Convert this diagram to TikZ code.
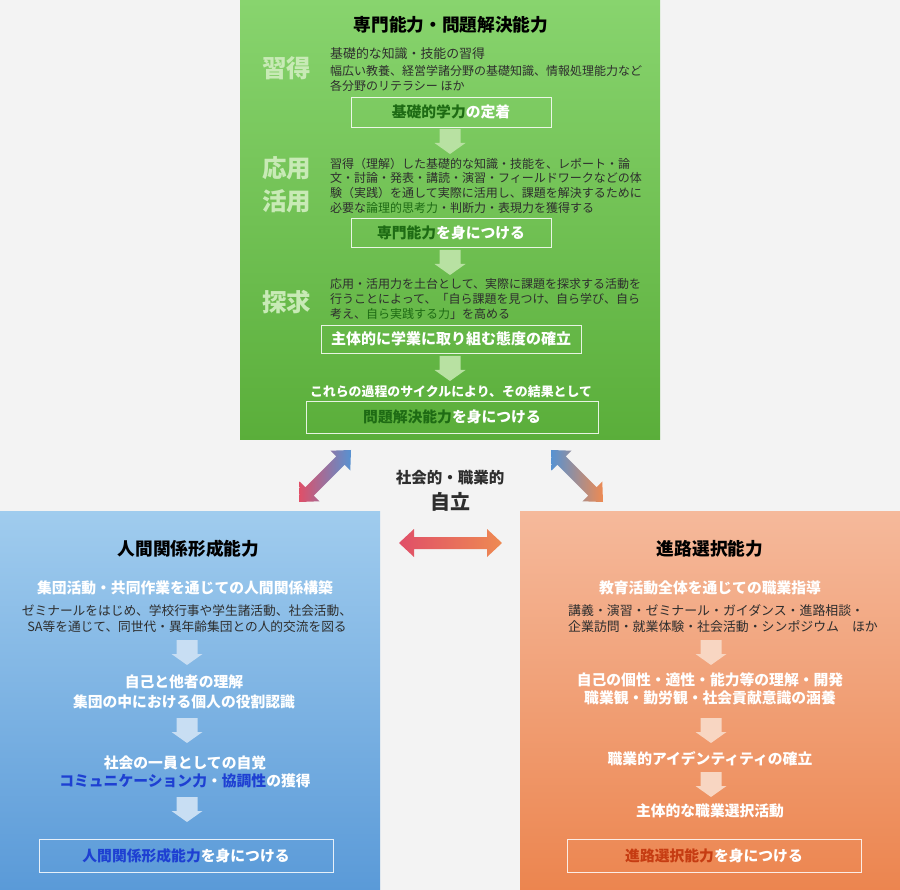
\documentclass[tikz,border=0pt]{standalone}
\usepackage{fontspec}
\newfontfamily\jp{Noto Sans CJK JP}
\usepackage{xcolor}
\usetikzlibrary{calc}

\definecolor{bggray}{HTML}{F3F3F3}
\definecolor{grtop}{HTML}{88D46E}
\definecolor{grbot}{HTML}{5AAE3A}
\definecolor{bltop}{HTML}{A0CCEE}
\definecolor{blbot}{HTML}{5A9AD8}
\definecolor{ortop}{HTML}{F5B99B}
\definecolor{orbot}{HTML}{EC854F}
\definecolor{grmark}{HTML}{1E6B14}
\definecolor{blmark}{HTML}{1E40D2}
\definecolor{ormark}{HTML}{C63C12}
\definecolor{grstage}{HTML}{C8EAB6}
\definecolor{grarrow}{HTML}{B8E1A2}
\definecolor{blarrow}{HTML}{C8DEF3}
\definecolor{orarrow}{HTML}{F8D6C2}
\definecolor{txtgray}{HTML}{2E2E2E}
\definecolor{arred}{HTML}{E04F68}
\definecolor{arblue}{HTML}{5692D2}
\definecolor{arorange}{HTML}{EE8A52}

% block arrow pointing down: colour, x, top y
\newcommand{\flowarrow}[3]{%
  \fill[#1] (#2-10.5,#3) -- (#2+10.5,#3) -- (#2+10.5,#3+14) -- (#2+15.5,#3+14)
    -- (#2,#3+25) -- (#2-15.5,#3+14) -- (#2-10.5,#3+14) -- cycle;}

% double arrow between two coordinates, with shading
\newcommand{\dblarrow}[3]{%
  \shade[#3] (#1)
    -- ($(#1)!15pt!(#2)!14pt!90:(#2)$)
    -- ($(#1)!15pt!(#2)!6pt!90:(#2)$)
    -- ($(#2)!15pt!(#1)!6pt!-90:(#1)$)
    -- ($(#2)!15pt!(#1)!14pt!-90:(#1)$)
    -- (#2)
    -- ($(#2)!15pt!(#1)!14pt!90:(#1)$)
    -- ($(#2)!15pt!(#1)!6pt!90:(#1)$)
    -- ($(#1)!15pt!(#2)!6pt!-90:(#2)$)
    -- ($(#1)!15pt!(#2)!14pt!-90:(#2)$)
    -- cycle;}

\tikzset{
  heading/.style={font=\jp\bfseries\fontsize{17.7}{20}\selectfont, text=black, inner sep=0},
  stage/.style={font=\jp\bfseries\fontsize{24.5}{33}\selectfont, text=grstage, align=center, inner sep=0},
  note/.style={font=\jp\fontsize{12}{14.7}\selectfont, text=txtgray, inner sep=0},
  lead/.style={font=\jp\bfseries\fontsize{14.8}{18.5}\selectfont, text=white, align=center, inner sep=0},
  goal/.style={draw=white, draw opacity=0.85, line width=0.8pt, inner sep=0,
    font=\jp\bfseries\fontsize{14.8}{18}\selectfont, text=white},
}

\begin{document}
\begin{tikzpicture}[x=1pt,y=-1pt]
  \useasboundingbox (0,0) rectangle (900,890);
  \fill[bggray] (0,0) rectangle (900,890);

  % three panels
  \shade[top color=grtop, bottom color=grbot] (240,0) rectangle (660,440);
  \shade[top color=bltop, bottom color=blbot] (0,511) rectangle (380,890);
  \shade[top color=ortop, bottom color=orbot] (520,511) rectangle (900,890);

  % green panel
  \node[heading] (gtitle) at (451,25) {専門能力・問題解決能力};
  \node[stage] (st1) at (286.5,68) {習得};
  \node[stage] (st2) at (286.5,184.5) {応用\\活用};
  \node[stage] (st3) at (286.5,302) {探求};

  \node[note, anchor=west, font=\jp\fontsize{12.9}{15}\selectfont] (n1a) at (330,54) {基礎的な知識・技能の習得};
  \node[note, anchor=west, align=left] (n1b) at (330,78.5) {幅広い教養、経営学諸分野の基礎知識、情報処理能力など\\各分野のリテラシー ほか};
  \node[goal, minimum width=200, minimum height=30] (g1) at (451,112) {\textcolor{grmark}{基礎的学力}の定着};
  \flowarrow{grarrow}{450}{129}

  \node[note, anchor=west, align=left] (n2) at (330,185.5) {習得（理解）した基礎的な知識・技能を、レポート・論\\文・討論・発表・講読・演習・フィールドワークなどの体\\験（実践）を通して実際に活用し、課題を解決するために\\必要な\textcolor{grmark}{論理的思考力}・判断力・表現力を獲得する};
  \node[goal, minimum width=200, minimum height=29] (g2) at (451,232.5) {\textcolor{grmark}{専門能力}を身につける};
  \flowarrow{grarrow}{450}{250}

  \node[note, anchor=west, align=left] (n3) at (330,299) {応用・活用力を土台として、実際に課題を探求する活動を\\行うことによって、「自ら課題を見つけ、自ら学び、自ら\\考え、\textcolor{grmark}{自ら実践する力}」を高める};
  \node[goal, minimum width=260, minimum height=28, font=\jp\bfseries\fontsize{15}{18}\selectfont] (g3) at (451,339) {主体的に学業に取り組む態度の確立};
  \flowarrow{grarrow}{450}{356}

  \node[lead, font=\jp\bfseries\fontsize{12.9}{15}\selectfont] (cycle) at (451,392) {これらの過程のサイクルにより、その結果として};
  \node[goal, minimum width=292, minimum height=32] (g4) at (452,417) {\textcolor{grmark}{問題解決能力}を身につける};

  % centre
  \node[inner sep=0, font=\jp\bfseries\fontsize{15.5}{18}\selectfont, text=txtgray] (soc) at (450,478) {社会的・職業的};
  \node[inner sep=0, font=\jp\bfseries\fontsize{20}{24}\selectfont, text=txtgray] (jiritsu) at (450,502) {自立};
  \coordinate (A1) at (299,502);
  \coordinate (A2) at (351,450);
  \coordinate (B1) at (551,450);
  \coordinate (B2) at (603,502);
  \coordinate (C1) at (399,543);
  \coordinate (C2) at (502,543);
  \dblarrow{A1}{A2}{left color=arred, right color=arblue}
  \dblarrow{B1}{B2}{left color=arblue, right color=arorange}
  \dblarrow{C1}{C2}{left color=arred, right color=arorange}

  % blue panel
  \node[heading] (btitle) at (188.5,549) {人間関係形成能力};
  \node[lead] (b1) at (185,588) {集団活動・共同作業を通じての人間関係構築};
  \node[note, align=center, font=\jp\fontsize{12.7}{16.5}\selectfont] (bn) at (187,618.5) {ゼミナールをはじめ、学校行事や学生諸活動、社会活動、\\SA等を通じて、同世代・異年齢集団との人的交流を図る};
  \flowarrow{blarrow}{187}{640}
  \node[lead, font=\jp\bfseries\fontsize{14.8}{19.4}\selectfont] (b2) at (184,692) {自己と他者の理解\\集団の中における個人の役割認識};
  \flowarrow{blarrow}{187}{718}
  \node[lead, font=\jp\bfseries\fontsize{14.8}{18}\selectfont] (b3) at (185,772) {社会の一員としての自覚\\\textcolor{blmark}{コミュニケーション力}・\textcolor{blmark}{協調性}の獲得};
  \flowarrow{blarrow}{187}{797}
  \node[goal, minimum width=294, minimum height=33] (bgoal) at (186,855.5) {\textcolor{blmark}{人間関係形成能力}を身につける};

  % orange panel
  \node[heading] (otitle) at (710,549) {進路選択能力};
  \node[lead] (o1) at (710,588) {教育活動全体を通じての職業指導};
  \node[note, anchor=west, align=left, font=\jp\fontsize{12.9}{16.5}\selectfont] (on) at (568,618.5) {講義・演習・ゼミナール・ガイダンス・進路相談・\\企業訪問・就業体験・社会活動・シンポジウム　ほか};
  \flowarrow{orarrow}{711}{640}
  \node[lead, font=\jp\bfseries\fontsize{14.8}{18}\selectfont] (o2) at (710,689) {自己の個性・適性・能力等の理解・開発\\職業観・勤労観・社会貢献意識の涵養};
  \flowarrow{orarrow}{711}{718}
  \node[lead] (o3) at (710,759) {職業的アイデンティティの確立};
  \flowarrow{orarrow}{711}{772}
  \node[lead] (o4) at (710,811) {主体的な職業選択活動};
  \node[goal, minimum width=294, minimum height=33] (ogoal) at (714,855.5) {\textcolor{ormark}{進路選択能力}を身につける};
\end{tikzpicture}
\end{document}
